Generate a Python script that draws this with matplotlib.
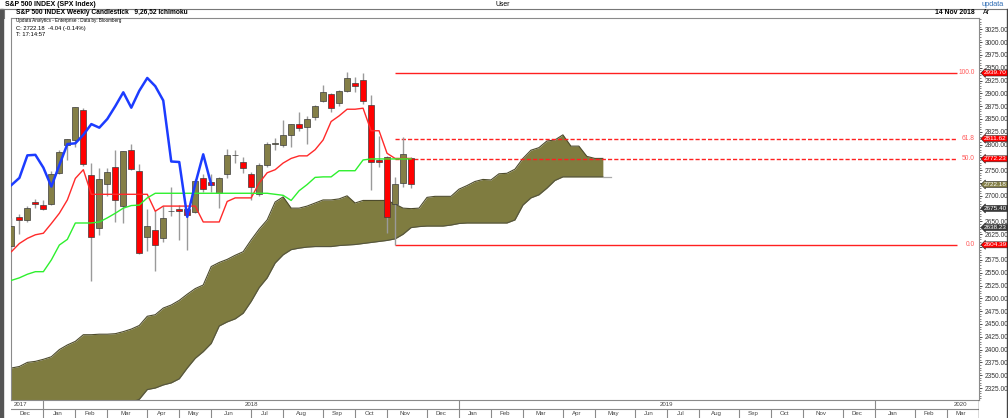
import numpy as np
import pandas as pd
import matplotlib
matplotlib.use('Agg')
import matplotlib.pyplot as plt
from matplotlib import font_manager
from matplotlib.lines import Line2D
from matplotlib.patches import Rectangle
from matplotlib.ticker import FuncFormatter, MultipleLocator
from matplotlib.transforms import blended_transform_factory

# weekly S&P 500 candles (week ending Friday), 1 Dec 2017 .. 16 Nov 2018
opens = [2603, 2658, 2652, 2687, 2682, 2684, 2745, 2799, 2809, 2867,
         2741, 2637, 2723, 2757, 2681, 2790, 2748, 2620, 2633, 2618,
         2670, 2675, 2675, 2669, 2734, 2727, 2705, 2742, 2779, 2766,
         2743, 2703, 2760, 2802, 2800, 2819, 2840, 2835, 2853, 2885,
         2898, 2882, 2905, 2921, 2927, 2877, 2770, 2775, 2684, 2726, 2774]
highs = [2657, 2665, 2680, 2694, 2692, 2748, 2789, 2811, 2873, 2872,
         2764, 2754, 2754, 2789, 2787, 2802, 2762, 2675, 2672, 2680,
         2718, 2683, 2676, 2733, 2742, 2742, 2737, 2791, 2790, 2776,
         2746, 2764, 2806, 2812, 2848, 2841, 2863, 2855, 2877, 2916,
         2900, 2906, 2941, 2932, 2940, 2897, 2817, 2777, 2736, 2815, 2776]
lows = [2597, 2625, 2648, 2676, 2672, 2683, 2742, 2769, 2796, 2759,
        2533, 2623, 2699, 2648, 2647, 2750, 2586, 2593, 2554, 2610,
        2660, 2613, 2595, 2667, 2707, 2707, 2676, 2735, 2765, 2744,
        2691, 2699, 2757, 2790, 2796, 2796, 2826, 2802, 2848, 2884,
        2864, 2876, 2902, 2903, 2880, 2711, 2756, 2628, 2604, 2718, 2716]
closes = [2642, 2652, 2676, 2684, 2674, 2743, 2786, 2810, 2873, 2762,
          2620, 2732, 2747, 2691, 2787, 2752, 2588, 2641, 2604, 2656,
          2671, 2670, 2663, 2728, 2713, 2721, 2735, 2779, 2780, 2755,
          2718, 2760, 2801, 2802.5, 2819, 2840, 2833, 2850, 2875, 2902,
          2872, 2905, 2930, 2914, 2886, 2767, 2766, 2659, 2723, 2781, 2722.18]

# ichimoku lines
tenkan = [2591, 2607, 2617, 2624, 2627, 2646, 2666, 2692, 2734, 2751,
          2703, 2703, 2703, 2703, 2703, 2703, 2703, 2703, 2670, 2680,
          2680, 2680, 2680, 2680, 2649, 2649, 2649, 2689, 2696, 2696,
          2696, 2725, 2745, 2751, 2764, 2773, 2778, 2778, 2790, 2809,
          2845, 2856, 2869, 2869, 2871, 2827, 2827, 2783, 2773, 2773, 2773]
kijun = [2535, 2540, 2547, 2552, 2552, 2575, 2604, 2615, 2647, 2647,
         2647, 2649, 2657, 2666, 2676, 2681, 2682, 2696, 2705, 2705,
         2705, 2705, 2705, 2705, 2705, 2705, 2705, 2705, 2705, 2705,
         2705, 2705, 2705, 2703, 2701, 2691, 2710, 2722, 2736, 2737,
         2737, 2749, 2749, 2749, 2770, 2772, 2772, 2772, 2772, 2772, 2772]
span_a = [2364, 2367, 2375, 2377, 2381, 2386, 2400, 2409, 2416, 2429,
          2429, 2430, 2430, 2431, 2435, 2440, 2447, 2465, 2468, 2481,
          2487, 2496, 2508, 2519, 2526, 2562, 2570, 2576, 2584, 2591,
          2614, 2635, 2653, 2688, 2698, 2676, 2676, 2680, 2686, 2692,
          2692, 2694, 2700, 2686, 2691, 2691, 2691, 2691, 2684, 2676,
          2675, 2676, 2697, 2699, 2699, 2699, 2713, 2720, 2728, 2732,
          2731, 2743, 2744, 2752, 2773, 2789, 2794, 2807, 2809, 2819,
          2797, 2797, 2777, 2773, 2773]
span_b = [2218, 2224, 2230, 2237, 2244, 2250, 2256, 2262, 2267, 2272,
          2276, 2280, 2284, 2288, 2292, 2297, 2303, 2322, 2325, 2331,
          2335, 2343, 2364, 2383, 2396, 2412, 2446, 2454, 2460, 2471,
          2494, 2521, 2540, 2569, 2585, 2595, 2598, 2600, 2601, 2601,
          2601, 2603, 2604, 2605, 2607, 2609, 2611, 2613, 2616, 2625,
          2638, 2640, 2641, 2641, 2641, 2643, 2646, 2647, 2647, 2647,
          2647, 2647, 2647, 2653, 2682, 2696, 2702, 2715, 2730, 2737,
          2737, 2737, 2737, 2737, 2737, 2737]
chikou_shift = 25

fib_pct = ['100.0', '61.8', '50.0', '0.0']
fib_price = [2939.70, 2811.62, 2772.23, 2604.39]
fib_from = '2018-11-02'

tag_price = [2939.70, 2811.62, 2772.23, 2722.18, 2675.40, 2638.23, 2604.39]
tag_kind = ['fib', 'fib', 'fib', 'close', 'cloud', 'cloud', 'fib']

W, H = 1008, 418


def fx(p):
    return p / W


def fy(p):
    return 1 - p / H


names = {f.name for f in font_manager.fontManager.ttflist}
if 'Liberation Sans Narrow' in names:
    FONT, k = 'Liberation Sans Narrow', 1.0
else:
    FONT, k = 'Liberation Sans', 0.85
plt.rcParams['font.family'] = [FONT, 'DejaVu Sans']

weeks = pd.date_range('2017-12-01', '2020-03-27', freq='W-FRI')
x = np.arange(len(weeks))
n = len(closes)

BRONZE = '#847f47'
CLOUD = '#7f7c40'
RED = '#ff0000'
GRID = '#8a8a8a'

fig = plt.figure(figsize=(W / 100, H / 100), dpi=100)
ax = fig.add_axes([fx(11), fy(400), (979.3 - 11) / W, (400 - 17.5) / H])
ax.set_xlim(-0.05, 121.1)
ax.set_ylim(2301.6, 3048.0)

# kumo
na = len(span_a)
ax.fill_between(x[:na], span_a, span_b[:na], color=CLOUD, lw=0, zorder=1)
ax.plot(x[:na], span_a, color='#4d4b2c', lw=0.8, zorder=1.5)
ax.plot(x[:na], span_b[:na], color='#55553f', lw=0.8, zorder=1.5)
ax.plot(x[na - 1:len(span_b)], span_b[na - 1:], color='#aaaaaa', lw=0.9, zorder=1.5)

# fibonacci retracement
i0 = weeks.get_loc(pd.Timestamp(fib_from))
for pct, p in zip(fib_pct, fib_price):
    ls = '-' if pct in ('100.0', '0.0') else (0, (3, 1.5))
    ax.hlines(p, i0, 118.3, colors='#ff2020', lw=1, linestyles=ls, zorder=2)
    ax.text(120.55, p, pct, ha='right', va='center', color='#ff5a5a', fontsize=5.6 * k)

# candles
o = np.array(opens)
c = np.array(closes)
up = c >= o
ax.vlines(x[:n], lows, highs, color='#9a9a9a', lw=1, zorder=3)
ax.bar(x[:n], np.maximum(np.abs(c - o), 0.8), bottom=np.minimum(o, c), width=0.74,
       color=np.where(up, BRONZE, RED), edgecolor='#3c3c3c', lw=0.5, zorder=4)

# tenkan / kijun / chikou
ax.plot(x[:n], tenkan, color='#ff2a2a', lw=1.0, zorder=5)
ax.plot(x[:n], kijun, color='#2ef02e', lw=1.0, zorder=5)
ax.plot(x[:n - chikou_shift], closes[chikou_shift:], color='#1c3cff', lw=1.8, zorder=5)


# scale labels that sit under a price tag are not drawn
def scale_label(v, pos):
    if min(abs(v - t) for t in tag_price) < 5:
        return ''
    return f'{v:.2f}'


ax.yaxis.tick_right()
ax.set_yticks(np.arange(2325, 3026, 25))
ax.yaxis.set_major_formatter(FuncFormatter(scale_label))
ax.yaxis.set_minor_locator(MultipleLocator(5))
ax.tick_params(axis='y', which='major', labelsize=5.6 * k, length=2.5, pad=1.5,
               colors='#333333', width=0.6)
ax.tick_params(axis='y', which='minor', length=1.2, width=0.5, color='#555555')
ax.set_xticks([])
for s in ax.spines.values():
    s.set_color(GRID)
    s.set_linewidth(0.8)

# price tags on the scale
tr = blended_transform_factory(fig.transFigure, ax.transData)
tag_colors = {'fib': '#ff0000', 'close': BRONZE, 'cloud': '#3a3a3a'}
for p, kind in zip(tag_price, tag_kind):
    fig.text(fx(984), p, f'{p:.2f}', transform=tr, ha='left', va='center',
             fontsize=5.4 * k, color='white', zorder=10,
             bbox=dict(boxstyle='larrow,pad=0.08', fc=tag_colors[kind], ec='#222222', lw=0.4))

# date bar (year row on top, month row below)
xmin, xmax = ax.get_xlim()
axd = fig.add_axes([fx(11), 0, (979.3 - 11) / W, 1 - fy(0) + fy(400)])
axd.set_xlim(xmin, xmax)
axd.set_ylim(0, 2)
axd.axis('off')
axd.axhline(1, color=GRID, lw=0.8)
axd.axvline(xmax, color='#444444', lw=1)
month_ends = [i for i in range(len(weeks) - 1) if weeks[i + 1].month != weeks[i].month]
year_ends = [i for i in range(len(weeks) - 1) if weeks[i + 1].year != weeks[i].year]
axd.vlines(month_ends, 0, 1, color=GRID, lw=0.8)
axd.vlines(year_ends, 1, 2, color=GRID, lw=0.8)

edges = [xmin] + month_ends + [xmax]
firsts = [0] + [m + 1 for m in month_ends]
for a, b, f in zip(edges[:-1], edges[1:], firsts):
    axd.text((a + b) / 2 - 0.25, 0.48, weeks[f].strftime('%b'), ha='center', va='center',
             fontsize=5.2 * k, color='#444444')

yedges = [xmin] + year_ends + [xmax]
yfirsts = [0] + [e + 1 for e in year_ends]
for j, (a, b, f) in enumerate(zip(yedges[:-1], yedges[1:], yfirsts)):
    yr = str(weeks[f].year)
    if j == 0:
        axd.text(a + 0.4, 1.48, yr, ha='left', va='center', fontsize=5.2 * k, color='#444444')
    elif j == len(yfirsts) - 1:
        axd.text(b - 1.5, 1.48, yr, ha='right', va='center', fontsize=5.2 * k, color='#444444')
    else:
        axd.text((a + b) / 2, 1.48, yr, ha='center', va='center', fontsize=5.2 * k, color='#444444')

# header
fig.add_artist(Rectangle((0, 0), fx(2.5), fy(8.5), color='#555555', transform=fig.transFigure))
fig.add_artist(Line2D([0, 1], [fy(8.5)] * 2, color='#777777', lw=0.8))
fig.add_artist(Line2D([fx(4)] * 2, [fy(8.5), fy(17.5)], color='#777777', lw=0.8))
fig.add_artist(Line2D([fx(1006.5)] * 2, [0, fy(8.5)], color='#444444', lw=1))
fig.text(fx(5), fy(4.3), 'S&P 500 INDEX (SPX Index)', fontsize=5.8 * k, fontweight='bold', va='center')
fig.text(fx(503), fy(4.3), 'User', fontsize=5.8 * k, ha='center', va='center')
fig.text(fx(1004), fy(4.3), 'updata', fontsize=6.2 * k, ha='right', va='center', color='#2f6db5')
fig.text(fx(16), fy(13), 'S&P 500 INDEX Weekly Candlestick   9,26,52 Ichimoku',
         fontsize=5.6 * k, fontweight='bold', va='center')
fig.text(fx(975), fy(13), '14 Nov 2018', fontsize=5.8 * k, fontweight='bold', ha='right', va='center')
fig.text(fx(983), fy(13), 'Ar', fontsize=5.8 * k, va='center')
fig.text(fx(16), fy(20.8), 'Updata Analytics - Enterprise : Data by: Bloomberg', fontsize=3.9 * k, va='center')
fig.text(fx(16), fy(28.8), 'C: 2722.18  -4.04 (-0.14%)', fontsize=5 * k, va='center')
fig.text(fx(16), fy(35), 'T: 17:14:57', fontsize=5 * k, va='center')

fig.savefig('out.png', dpi=100)
